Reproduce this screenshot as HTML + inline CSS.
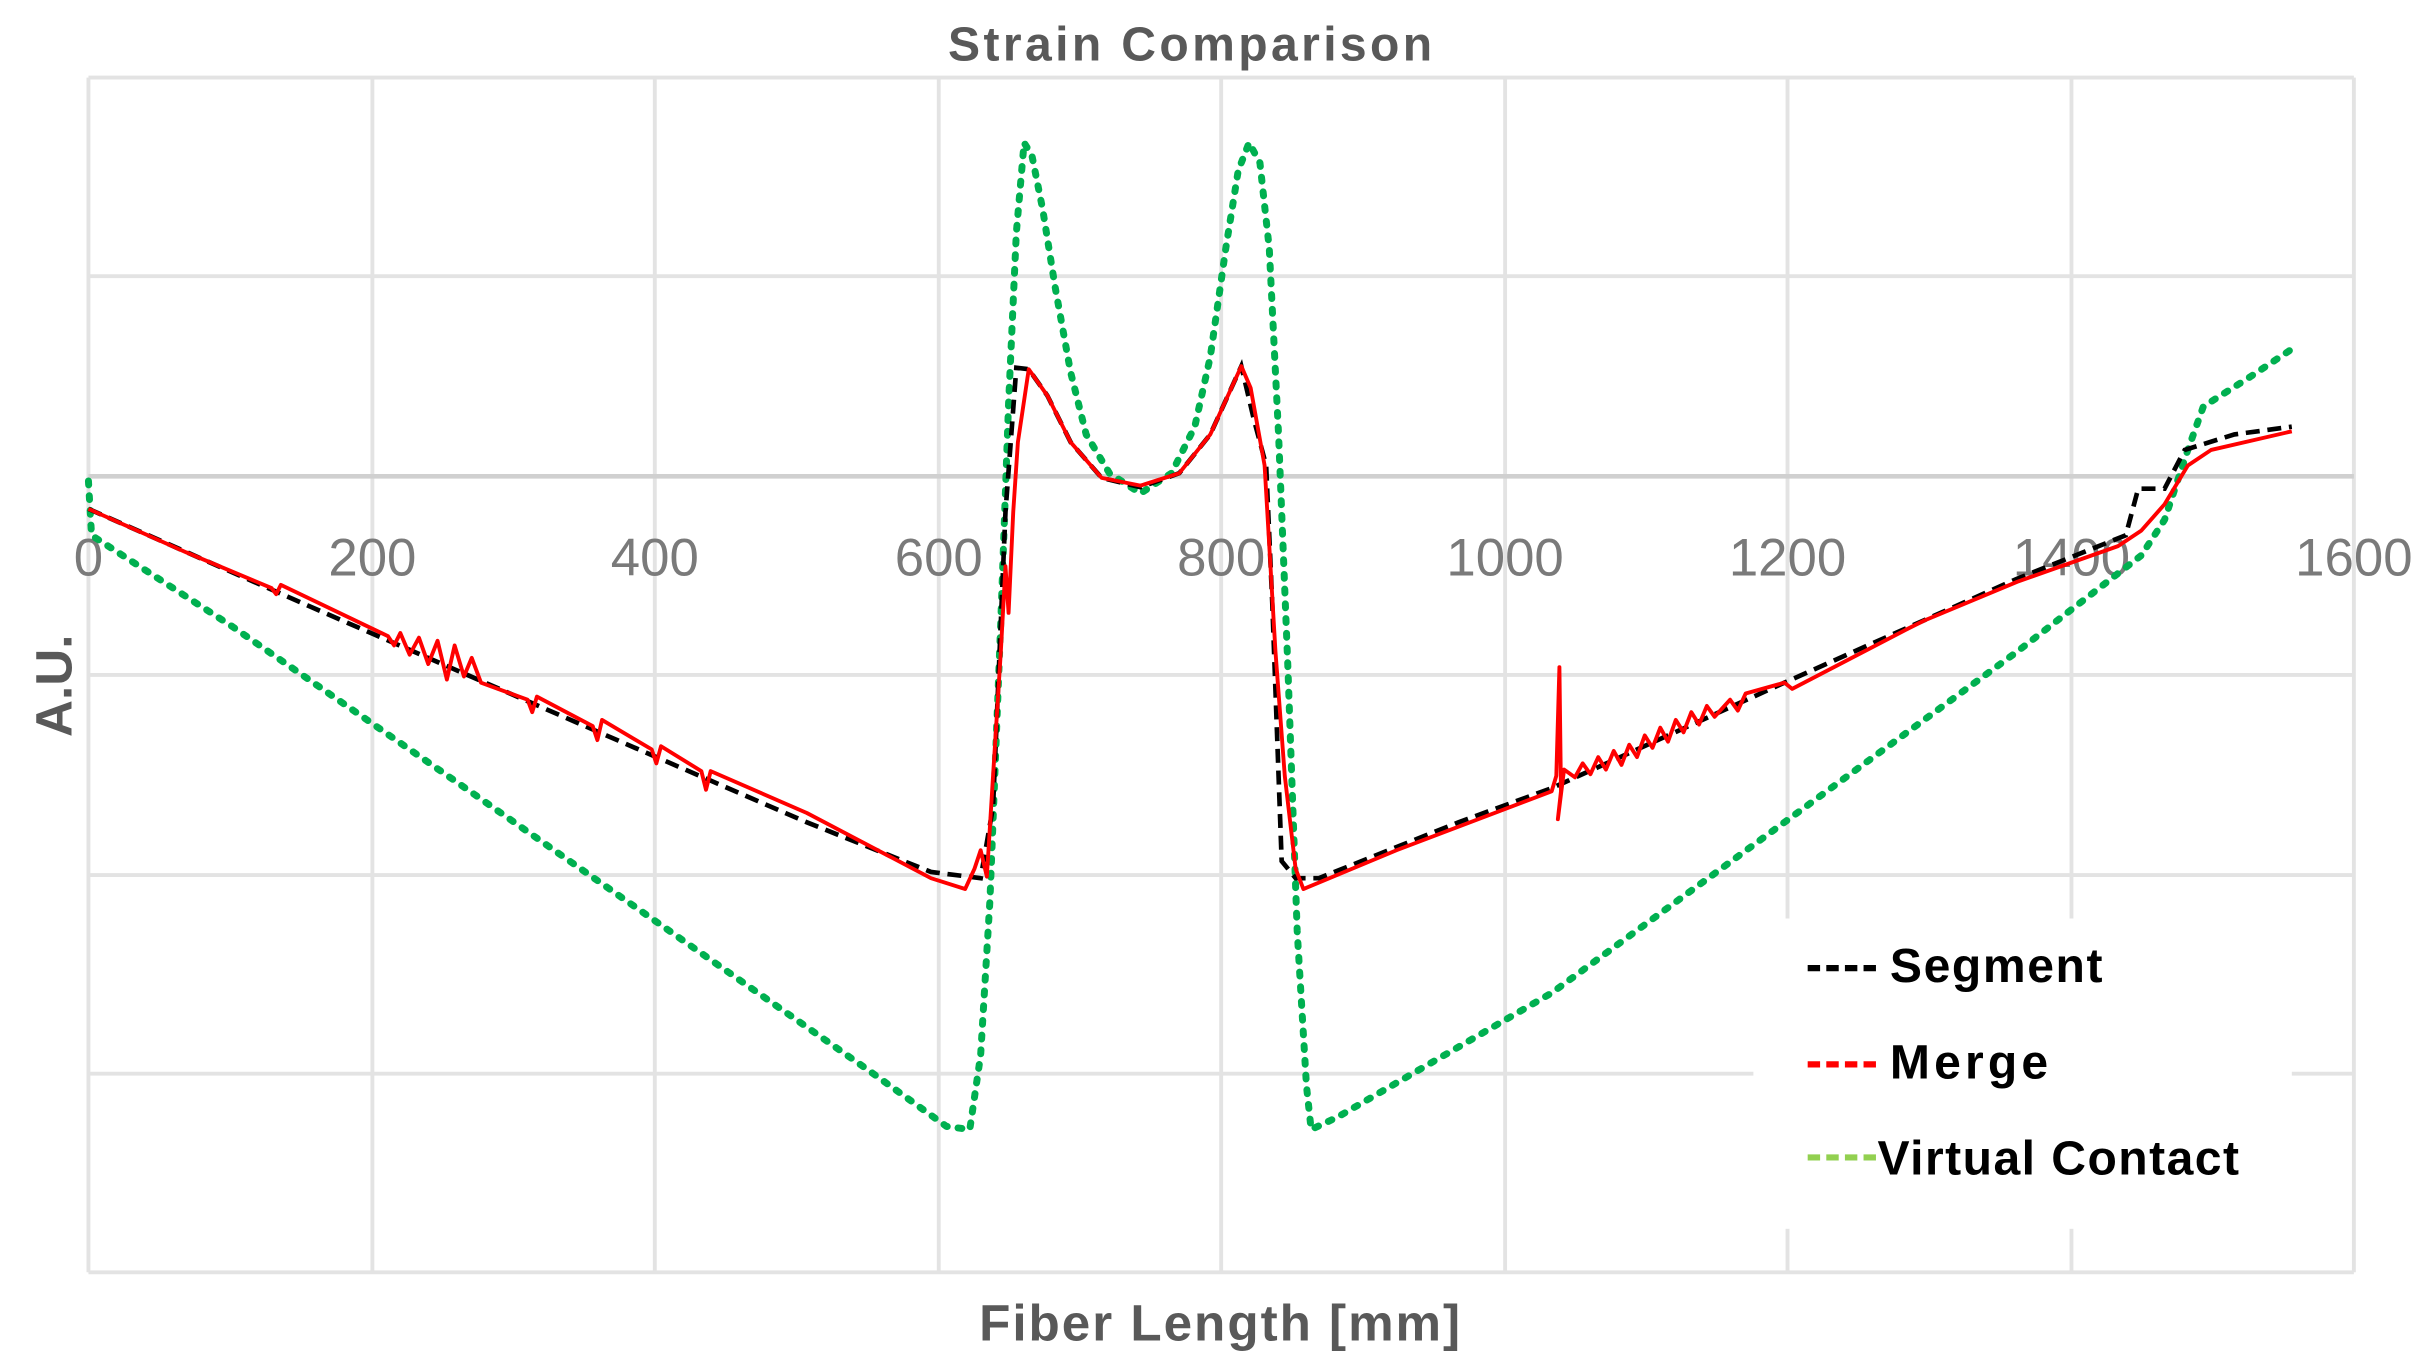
<!DOCTYPE html>
<html><head><meta charset="utf-8"><style>
html,body{margin:0;padding:0;background:#fff;}
svg{display:block;}
text{font-family:"Liberation Sans",sans-serif;}
</style></head><body>
<svg width="2433" height="1370" viewBox="0 0 1568 883" preserveAspectRatio="none" xmlns="http://www.w3.org/2000/svg">
<rect width="1568" height="883" fill="#fff"/>
<g stroke="#e3e3e3" stroke-width="2.5" fill="none">
<line x1="57" y1="50" x2="1517" y2="50"/>
<line x1="57" y1="178" x2="1517" y2="178"/>
<line x1="57" y1="435" x2="1517" y2="435"/>
<line x1="57" y1="564" x2="1517" y2="564"/>
<line x1="57" y1="692" x2="1517" y2="692"/>
<line x1="57" y1="820" x2="1517" y2="820"/>
<line x1="57" y1="50" x2="57" y2="820"/>
<line x1="240" y1="50" x2="240" y2="820"/>
<line x1="422" y1="50" x2="422" y2="820"/>
<line x1="605" y1="50" x2="605" y2="820"/>
<line x1="787" y1="50" x2="787" y2="820"/>
<line x1="970" y1="50" x2="970" y2="820"/>
<line x1="1152" y1="50" x2="1152" y2="820"/>
<line x1="1335" y1="50" x2="1335" y2="820"/>
<line x1="1517" y1="50" x2="1517" y2="820"/>
</g>
<line x1="57" y1="307" x2="1517" y2="307" stroke="#d0d0d0" stroke-width="3"/>
<g font-size="34" fill="#7a7a7a" text-anchor="middle">
<text x="57" y="371">0</text><text x="240" y="371">200</text><text x="422" y="371">400</text>
<text x="605" y="371">600</text><text x="787" y="371">800</text><text x="970" y="371">1000</text>
<text x="1152" y="371">1200</text><text x="1335" y="371">1400</text><text x="1517" y="371">1600</text>
</g>
<text x="767" y="39" font-size="31" font-weight="bold" fill="#595959" text-anchor="middle" textLength="312">Strain Comparison</text>
<text x="786" y="864" font-size="33" font-weight="bold" fill="#595959" text-anchor="middle" textLength="310">Fiber Length [mm]</text>
<text transform="translate(46,442) rotate(-90)" font-size="33" font-weight="bold" fill="#595959" text-anchor="middle">A.U.</text>
<rect x="1130" y="592" width="347" height="200" fill="#fff"/>
<polyline fill="none" stroke="#00b050" stroke-width="4.5" stroke-dasharray="2.5 7" stroke-linecap="round" stroke-linejoin="round"
points="57,310 59,345 150,404 300,508 450,613 560,690 610,726 625,728 632,680 638,580 645,400 650,260 655,150 660,92 665,100 672,135 680,185 690,240 700,280 715,305 735,318 755,305 770,275 780,230 790,160 798,110 805,92 812,105 818,160 824,280 830,430 836,600 842,700 845,728 862,720 1000,640 1150,530 1300,420 1380,358 1395,335 1410,290 1420,262 1450,243 1477,225"/>
<polyline fill="none" stroke="#000" stroke-width="3" stroke-dasharray="9 5"
points="57,328 200,391 400,478 520,530 600,562 632,566 640,520 648,330 655,237 663,238 675,255 690,285 710,308 735,314 760,305 780,280 800,236 808,270 816,300 820,390 826,555 835,566 850,566 940,530 1000,508 1150,440 1300,373 1370,345 1378,315 1395,315 1408,290 1440,280 1477,275"/>
<polyline fill="none" stroke="#ff0000" stroke-width="2.5" stroke-linejoin="round"
points="57,328 120,356 175,379 178,383 181,377 250,410 254,416 258,408 264,422 270,411 276,428 282,413 288,438 293,416 299,436 304,424 310,440 340,451 343,459 346,449 382,468 385,477 388,464 420,483 423,492 426,481 452,497 455,509 458,497 520,524 600,566 622,573 628,560 632,548 636,565 640,500 645,420 648,365 650,395 653,330 656,285 663,238 675,255 690,285 710,308 735,313 760,305 780,280 800,236 806,250 815,300 822,420 828,500 835,560 840,573 900,548 1000,510 1003,500 1005,430 1006,510 1004,528 1008,496 1015,501 1020,492 1025,499 1030,488 1035,496 1040,484 1045,493 1050,480 1055,488 1060,474 1065,482 1070,469 1075,478 1080,464 1085,472 1090,459 1095,467 1100,455 1105,462 1115,451 1120,458 1125,447 1150,440 1155,444 1230,405 1240,400 1300,375 1365,352 1380,342 1395,325 1410,300 1425,290 1477,278"/>
<line x1="1165" y1="624" x2="1211" y2="624" stroke="#000" stroke-width="4" stroke-dasharray="8 4"/>
<line x1="1165" y1="686" x2="1211" y2="686" stroke="#ff0000" stroke-width="4" stroke-dasharray="8 4"/>
<line x1="1165" y1="746" x2="1211" y2="746" stroke="#92d050" stroke-width="4" stroke-dasharray="8 4"/>
<g font-size="31" font-weight="bold" fill="#000">
<text x="1218" y="633" textLength="137">Segment</text>
<text x="1218" y="695" textLength="102">Merge</text>
<text x="1210" y="757" textLength="233">Virtual Contact</text>
</g>
</svg>
</body></html>
